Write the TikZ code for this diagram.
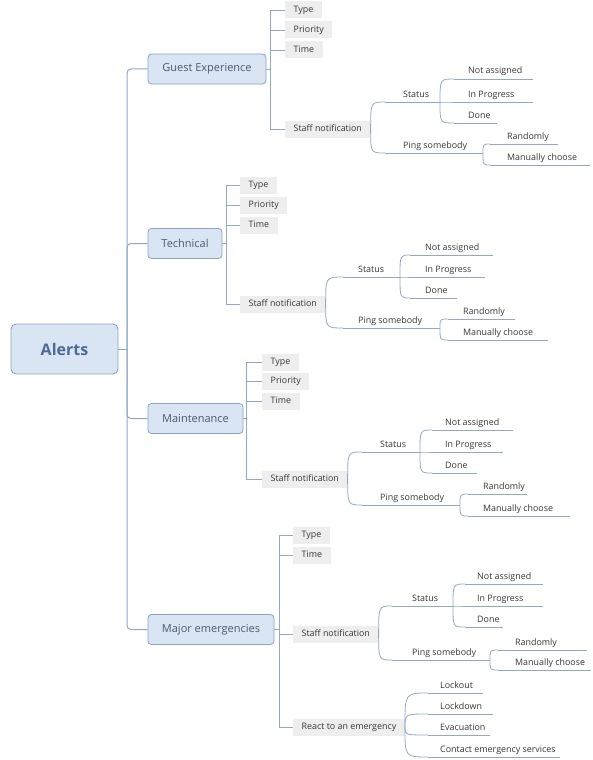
\documentclass[tikz,border=0pt]{standalone}
\usepackage{fontspec}
\setmainfont{Open Sans}
\definecolor{linec}{HTML}{8FA9C7}
\definecolor{boxfill}{HTML}{DAE5F3}
\definecolor{boxdraw}{HTML}{8AA5C6}
\definecolor{roottext}{HTML}{4B6B94}
\definecolor{branchtext}{HTML}{4A5A70}
\definecolor{leaftext}{HTML}{383838}
\definecolor{tagfill}{HTML}{EEEEEE}

% leaf label sitting on its own underline: name, line start, text x, line end, line y, text
\newcommand\mmleaf[6]{%
  \coordinate (#1-a) at (#2,#5);
  \coordinate (#1-b) at (#4,#5);
  \node[leaf] (#1) at (#3,#5-5) {#6};
  \draw[ul] (#1-a) -- (#1-b);
}
% curved branch from a parent point to the start of a child's underline
\newcommand\mmcurve[2]{\draw[link] (#1) .. controls (#1 |- #2) .. (#2);}

\begin{document}
\begin{tikzpicture}[x=1pt,y=-1pt,
  link/.style={draw=linec, line width=0.8pt},
  ul/.style={draw=linec, line width=0.8pt},
  trunkline/.style={draw=linec, line width=1pt, rounded corners=4pt},
  rootbox/.style={draw=boxdraw, fill=boxfill, rounded corners=5pt, line width=0.9pt,
    minimum width=107pt, minimum height=50pt,
    font=\fontsize{16}{19}\selectfont\bfseries, text=roottext},
  branch/.style={draw=boxdraw, fill=boxfill, rounded corners=3.5pt, line width=0.8pt,
    minimum height=30pt, font=\fontsize{11}{13}\selectfont, text=branchtext},
  tag/.style={fill=tagfill, anchor=west, inner xsep=8.5pt, inner ysep=0pt,
    minimum height=17pt, text height=6.6pt, text depth=2pt,
    font=\fontsize{8.9}{10}\selectfont, text=leaftext},
  leaf/.style={anchor=base west, inner sep=0pt,
    font=\fontsize{8.9}{10}\selectfont, text=leaftext},
]
\fill[white] (0,0) rectangle (593,760);
\useasboundingbox (0,0) rectangle (593,760);

% root and main branches
\node[rootbox] (root) at (64.5,349) {Alerts};
\coordinate (trunk) at (127,349);
\node[branch, minimum width=118pt] (ge) at (207,69) {Guest Experience};
\node[branch, minimum width=74pt]  (te) at (185,243.5) {Technical};
\node[branch, minimum width=95pt]  (me) at (195.5,418.5) {Maintenance};
\node[branch, minimum width=126pt] (ee) at (211,629.5) {Major emergencies};
\draw[trunkline] (root.east) -- (trunk);
\foreach \b in {ge,te,me,ee} {\draw[trunkline] (trunk) |- (\b.west);}

% ---------- Guest Experience ----------
\node[tag] (g-ty) at (285,10)  {Type};
\node[tag] (g-pr) at (285,30)  {Priority};
\node[tag] (g-ti) at (285,50)  {Time};
\node[tag] (g-sn) at (285,129) {Staff notification};
\coordinate (g-bar) at (270,69);
\draw[link] (ge.east) -- (g-bar);
\foreach \t in {ty,pr,ti,sn} {\draw[link] (g-bar) |- (g-\t.west);}
\mmleaf{g-st}{385}{403}{440}{102}{Status}
\mmleaf{g-pi}{385}{403}{483}{153}{Ping somebody}
\mmleaf{g-na}{454}{468}{533}{79}{Not assigned}
\mmleaf{g-ip}{454}{468}{533}{102}{In Progress}
\mmleaf{g-do}{454}{468}{497}{123}{Done}
\mmleaf{g-ra}{490}{507}{558}{144}{Randomly}
\mmleaf{g-mc}{490}{507}{590}{165}{Manually choose}
\mmcurve{g-sn.east}{g-st-a}
\mmcurve{g-sn.east}{g-pi-a}
\mmcurve{g-st-b}{g-na-a}
\mmcurve{g-st-b}{g-ip-a}
\mmcurve{g-st-b}{g-do-a}
\mmcurve{g-pi-b}{g-ra-a}
\mmcurve{g-pi-b}{g-mc-a}

% ---------- Technical ----------
\node[tag] (t-ty) at (240,185) {Type};
\node[tag] (t-pr) at (240,205) {Priority};
\node[tag] (t-ti) at (240,225) {Time};
\node[tag] (t-sn) at (240,304) {Staff notification};
\coordinate (t-bar) at (226,243.5);
\draw[link] (te.east) -- (t-bar);
\foreach \t in {ty,pr,ti,sn} {\draw[link] (t-bar) |- (t-\t.west);}
\mmleaf{t-st}{343}{358}{400}{277}{Status}
\mmleaf{t-pi}{343}{358}{440}{328}{Ping somebody}
\mmleaf{t-na}{410}{425}{493}{255}{Not assigned}
\mmleaf{t-ip}{410}{425}{485}{277}{In Progress}
\mmleaf{t-do}{410}{425}{457}{298}{Done}
\mmleaf{t-ra}{448}{463}{515}{319}{Randomly}
\mmleaf{t-mc}{448}{463}{548}{340}{Manually choose}
\mmcurve{t-sn.east}{t-st-a}
\mmcurve{t-sn.east}{t-pi-a}
\mmcurve{t-st-b}{t-na-a}
\mmcurve{t-st-b}{t-ip-a}
\mmcurve{t-st-b}{t-do-a}
\mmcurve{t-pi-b}{t-ra-a}
\mmcurve{t-pi-b}{t-mc-a}

% ---------- Maintenance ----------
\node[tag] (m-ty) at (262,362) {Type};
\node[tag] (m-pr) at (262,381) {Priority};
\node[tag] (m-ti) at (262,401) {Time};
\node[tag] (m-sn) at (262,479) {Staff notification};
\coordinate (m-bar) at (246,418.5);
\draw[link] (me.east) -- (m-bar);
\foreach \t in {ty,pr,ti,sn} {\draw[link] (m-bar) |- (m-\t.west);}
\mmleaf{m-st}{362}{380}{420}{452}{Status}
\mmleaf{m-pi}{362}{380}{460}{505}{Ping somebody}
\mmleaf{m-na}{432}{445}{513}{430}{Not assigned}
\mmleaf{m-ip}{432}{445}{503}{452}{In Progress}
\mmleaf{m-do}{432}{445}{477}{473}{Done}
\mmleaf{m-ra}{468}{483}{527}{494}{Randomly}
\mmleaf{m-mc}{468}{483}{570}{516}{Manually choose}
\mmcurve{m-sn.east}{m-st-a}
\mmcurve{m-sn.east}{m-pi-a}
\mmcurve{m-st-b}{m-na-a}
\mmcurve{m-st-b}{m-ip-a}
\mmcurve{m-st-b}{m-do-a}
\mmcurve{m-pi-b}{m-ra-a}
\mmcurve{m-pi-b}{m-mc-a}

% ---------- Major emergencies ----------
\node[tag] (e-ty) at (293,535) {Type};
\node[tag] (e-ti) at (293,555) {Time};
\node[tag] (e-sn) at (293,634) {Staff notification};
\node[tag] (e-re) at (293,727) {React to an emergency};
\coordinate (e-bar) at (279,629.5);
\draw[link] (ee.east) -- (e-bar);
\foreach \t in {ty,ti,sn,re} {\draw[link] (e-bar) |- (e-\t.west);}
\mmleaf{e-st}{392}{412}{453}{606}{Status}
\mmleaf{e-pi}{392}{412}{490}{660}{Ping somebody}
\mmleaf{e-na}{465}{477}{543}{584}{Not assigned}
\mmleaf{e-ip}{465}{477}{543}{606}{In Progress}
\mmleaf{e-do}{465}{477}{503}{627}{Done}
\mmleaf{e-ra}{498}{515}{587}{650}{Randomly}
\mmleaf{e-mc}{498}{515}{591}{670}{Manually choose}
\mmcurve{e-sn.east}{e-st-a}
\mmcurve{e-sn.east}{e-pi-a}
\mmcurve{e-st-b}{e-na-a}
\mmcurve{e-st-b}{e-ip-a}
\mmcurve{e-st-b}{e-do-a}
\mmcurve{e-pi-b}{e-ra-a}
\mmcurve{e-pi-b}{e-mc-a}
\mmleaf{e-lo}{428}{440}{483}{693}{Lockout}
\mmleaf{e-ld}{428}{440}{493}{714}{Lockdown}
\mmleaf{e-ev}{428}{440}{490}{735}{Evacuation}
\mmleaf{e-cs}{428}{440}{560}{757}{Contact emergency services}
\foreach \t in {lo,ld,ev,cs} {\mmcurve{e-re.east}{e-\t-a}}
\end{tikzpicture}
\end{document}
